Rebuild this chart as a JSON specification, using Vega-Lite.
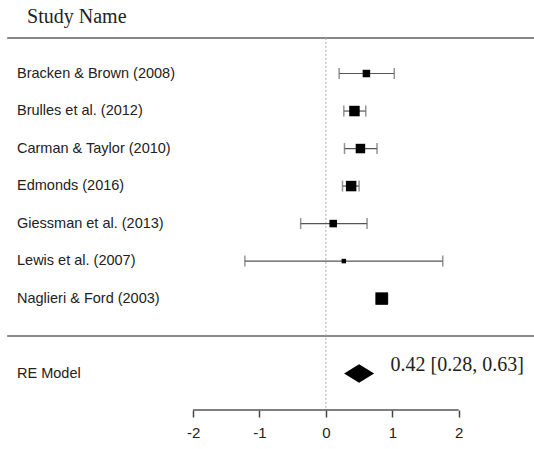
{
  "$schema": "https://vega.github.io/schema/vega-lite/v6.json",
  "width": 534,
  "height": 410,
  "autosize": {"type": "none"},
  "padding": {"left": 0, "top": 0, "right": 0, "bottom": 39},
  "background": "white",
  "config": {"view": {"stroke": null}},
  "datasets": {
    "studies": [
      {"study": "Bracken & Brown (2008)", "row": 1, "lo": 0.20, "est": 0.61, "hi": 1.03, "weight": 15},
      {"study": "Brulles et al. (2012)", "row": 2, "lo": 0.27, "est": 0.43, "hi": 0.60, "weight": 21},
      {"study": "Carman & Taylor (2010)", "row": 3, "lo": 0.28, "est": 0.52, "hi": 0.77, "weight": 19},
      {"study": "Edmonds (2016)", "row": 4, "lo": 0.25, "est": 0.38, "hi": 0.50, "weight": 21},
      {"study": "Giessman et al. (2013)", "row": 5, "lo": -0.38, "est": 0.11, "hi": 0.62, "weight": 15},
      {"study": "Lewis et al. (2007)", "row": 6, "lo": -1.22, "est": 0.27, "hi": 1.76, "weight": 9},
      {"study": "Naglieri & Ford (2003)", "row": 7, "lo": 0.76, "est": 0.84, "hi": 0.93, "weight": 25}
    ],
    "model": [
      {"label": "RE Model", "row": 9, "lo": 0.28, "mid": 0.5, "hi": 0.72, "text": "0.42 [0.28, 0.63]"}
    ]
  },
  "layer": [
    {
      "data": {"values": [{"label": "Study Name"}]},
      "mark": {"type": "text", "align": "left", "baseline": "middle", "font": "Liberation Serif", "fontSize": 20, "color": "#222"},
      "encoding": {
        "x": {"datum": -4.5, "type": "quantitative", "scale": {"domain": [-4.908, 3.134], "nice": false, "zero": false}, "axis": {"values": [-2, -1, 0, 1, 2], "labelExpr": "datum.value + ''", "domain": false, "grid": false, "tickSize": 7, "tickColor": "#444", "tickWidth": 1.5, "labelFont": "Liberation Sans", "labelFontSize": 15, "labelColor": "#222", "labelPadding": 8, "title": null, "labelFlush": false, "labelOverlap": false}},
        "y": {"datum": -0.5, "type": "quantitative", "scale": {"domain": [-0.96, 9.97], "nice": false, "zero": false, "reverse": true}, "axis": null},
        "text": {"field": "label"}
      }
    },
    {
      "data": {"values": [{"row": 0.05}, {"row": 8}]},
      "mark": {"type": "rule", "color": "#888", "strokeWidth": 2},
      "encoding": {
        "x": {"datum": -4.8, "type": "quantitative", "scale": {"domain": [-4.908, 3.134], "nice": false, "zero": false}, "axis": {"values": [-2, -1, 0, 1, 2], "labelExpr": "datum.value + ''", "domain": false, "grid": false, "tickSize": 7, "tickColor": "#444", "tickWidth": 1.5, "labelFont": "Liberation Sans", "labelFontSize": 15, "labelColor": "#222", "labelPadding": 8, "title": null, "labelFlush": false, "labelOverlap": false}},
        "x2": {"datum": 3.134},
        "y": {"field": "row", "type": "quantitative", "scale": {"domain": [-0.96, 9.97], "nice": false, "zero": false, "reverse": true}, "axis": null}
      }
    },
    {
      "data": {"values": [{"x": 0}]},
      "mark": {"type": "rule", "color": "#aaa", "strokeWidth": 1, "strokeDash": [2, 2]},
      "encoding": {
        "x": {"field": "x", "type": "quantitative", "scale": {"domain": [-4.908, 3.134], "nice": false, "zero": false}, "axis": {"values": [-2, -1, 0, 1, 2], "labelExpr": "datum.value + ''", "domain": false, "grid": false, "tickSize": 7, "tickColor": "#444", "tickWidth": 1.5, "labelFont": "Liberation Sans", "labelFontSize": 15, "labelColor": "#222", "labelPadding": 8, "title": null, "labelFlush": false, "labelOverlap": false}},
        "y": {"datum": 0.05, "type": "quantitative", "scale": {"domain": [-0.96, 9.97], "nice": false, "zero": false, "reverse": true}, "axis": null},
        "y2": {"datum": 9.97}
      }
    },
    {
      "data": {"values": [{"from": -2, "to": 2}]},
      "mark": {"type": "rule", "color": "#555", "strokeWidth": 1.5},
      "encoding": {
        "x": {"field": "from", "type": "quantitative", "scale": {"domain": [-4.908, 3.134], "nice": false, "zero": false}, "axis": {"values": [-2, -1, 0, 1, 2], "labelExpr": "datum.value + ''", "domain": false, "grid": false, "tickSize": 7, "tickColor": "#444", "tickWidth": 1.5, "labelFont": "Liberation Sans", "labelFontSize": 15, "labelColor": "#222", "labelPadding": 8, "title": null, "labelFlush": false, "labelOverlap": false}},
        "x2": {"field": "to"},
        "y": {"datum": 9.97, "type": "quantitative", "scale": {"domain": [-0.96, 9.97], "nice": false, "zero": false, "reverse": true}, "axis": null}
      }
    },
    {
      "data": {"name": "studies"},
      "mark": {"type": "rule", "color": "#555", "strokeWidth": 1.2},
      "encoding": {
        "x": {"field": "lo", "type": "quantitative", "scale": {"domain": [-4.908, 3.134], "nice": false, "zero": false}, "axis": {"values": [-2, -1, 0, 1, 2], "labelExpr": "datum.value + ''", "domain": false, "grid": false, "tickSize": 7, "tickColor": "#444", "tickWidth": 1.5, "labelFont": "Liberation Sans", "labelFontSize": 15, "labelColor": "#222", "labelPadding": 8, "title": null, "labelFlush": false, "labelOverlap": false}},
        "x2": {"field": "hi"},
        "y": {"field": "row", "type": "quantitative", "scale": {"domain": [-0.96, 9.97], "nice": false, "zero": false, "reverse": true}, "axis": null}
      }
    },
    {
      "data": {"name": "studies"},
      "mark": {"type": "tick", "orient": "vertical", "color": "#666", "size": 11, "thickness": 1.5},
      "encoding": {
        "x": {"field": "lo", "type": "quantitative", "scale": {"domain": [-4.908, 3.134], "nice": false, "zero": false}, "axis": {"values": [-2, -1, 0, 1, 2], "labelExpr": "datum.value + ''", "domain": false, "grid": false, "tickSize": 7, "tickColor": "#444", "tickWidth": 1.5, "labelFont": "Liberation Sans", "labelFontSize": 15, "labelColor": "#222", "labelPadding": 8, "title": null, "labelFlush": false, "labelOverlap": false}},
        "y": {"field": "row", "type": "quantitative", "scale": {"domain": [-0.96, 9.97], "nice": false, "zero": false, "reverse": true}, "axis": null}
      }
    },
    {
      "data": {"name": "studies"},
      "mark": {"type": "tick", "orient": "vertical", "color": "#666", "size": 11, "thickness": 1.5},
      "encoding": {
        "x": {"field": "hi", "type": "quantitative", "scale": {"domain": [-4.908, 3.134], "nice": false, "zero": false}, "axis": {"values": [-2, -1, 0, 1, 2], "labelExpr": "datum.value + ''", "domain": false, "grid": false, "tickSize": 7, "tickColor": "#444", "tickWidth": 1.5, "labelFont": "Liberation Sans", "labelFontSize": 15, "labelColor": "#222", "labelPadding": 8, "title": null, "labelFlush": false, "labelOverlap": false}},
        "y": {"field": "row", "type": "quantitative", "scale": {"domain": [-0.96, 9.97], "nice": false, "zero": false, "reverse": true}, "axis": null}
      }
    },
    {
      "data": {"name": "studies"},
      "mark": {"type": "point", "shape": "square", "filled": true, "color": "#000", "opacity": 1},
      "encoding": {
        "x": {"field": "est", "type": "quantitative", "scale": {"domain": [-4.908, 3.134], "nice": false, "zero": false}, "axis": {"values": [-2, -1, 0, 1, 2], "labelExpr": "datum.value + ''", "domain": false, "grid": false, "tickSize": 7, "tickColor": "#444", "tickWidth": 1.5, "labelFont": "Liberation Sans", "labelFontSize": 15, "labelColor": "#222", "labelPadding": 8, "title": null, "labelFlush": false, "labelOverlap": false}},
        "y": {"field": "row", "type": "quantitative", "scale": {"domain": [-0.96, 9.97], "nice": false, "zero": false, "reverse": true}, "axis": null},
        "size": {"field": "weight", "type": "quantitative", "scale": {"type": "pow", "exponent": 2, "domain": [0, 25], "range": [0, 156]}, "legend": null}
      }
    },
    {
      "data": {"name": "studies"},
      "mark": {"type": "text", "align": "left", "baseline": "middle", "font": "Liberation Sans", "fontSize": 14.5, "color": "#222"},
      "encoding": {
        "x": {"datum": -4.652, "type": "quantitative", "scale": {"domain": [-4.908, 3.134], "nice": false, "zero": false}, "axis": {"values": [-2, -1, 0, 1, 2], "labelExpr": "datum.value + ''", "domain": false, "grid": false, "tickSize": 7, "tickColor": "#444", "tickWidth": 1.5, "labelFont": "Liberation Sans", "labelFontSize": 15, "labelColor": "#222", "labelPadding": 8, "title": null, "labelFlush": false, "labelOverlap": false}},
        "y": {"field": "row", "type": "quantitative", "scale": {"domain": [-0.96, 9.97], "nice": false, "zero": false, "reverse": true}, "axis": null},
        "text": {"field": "study"}
      }
    },
    {
      "data": {"name": "model"},
      "mark": {"type": "text", "align": "left", "baseline": "middle", "font": "Liberation Sans", "fontSize": 14.5, "color": "#222"},
      "encoding": {
        "x": {"datum": -4.652, "type": "quantitative", "scale": {"domain": [-4.908, 3.134], "nice": false, "zero": false}, "axis": {"values": [-2, -1, 0, 1, 2], "labelExpr": "datum.value + ''", "domain": false, "grid": false, "tickSize": 7, "tickColor": "#444", "tickWidth": 1.5, "labelFont": "Liberation Sans", "labelFontSize": 15, "labelColor": "#222", "labelPadding": 8, "title": null, "labelFlush": false, "labelOverlap": false}},
        "y": {"field": "row", "type": "quantitative", "scale": {"domain": [-0.96, 9.97], "nice": false, "zero": false, "reverse": true}, "axis": null},
        "text": {"field": "label"}
      }
    },
    {
      "data": {"name": "model"},
      "mark": {"type": "point", "shape": "M -1 0 L 0 -0.616 L 1 0 L 0 0.616 Z", "filled": true, "color": "#000", "opacity": 1, "size": 900},
      "encoding": {
        "x": {"field": "mid", "type": "quantitative", "scale": {"domain": [-4.908, 3.134], "nice": false, "zero": false}, "axis": {"values": [-2, -1, 0, 1, 2], "labelExpr": "datum.value + ''", "domain": false, "grid": false, "tickSize": 7, "tickColor": "#444", "tickWidth": 1.5, "labelFont": "Liberation Sans", "labelFontSize": 15, "labelColor": "#222", "labelPadding": 8, "title": null, "labelFlush": false, "labelOverlap": false}},
        "y": {"field": "row", "type": "quantitative", "scale": {"domain": [-0.96, 9.97], "nice": false, "zero": false, "reverse": true}, "axis": null}
      }
    },
    {
      "data": {"name": "model"},
      "mark": {"type": "text", "align": "left", "baseline": "middle", "font": "Liberation Serif", "fontSize": 20, "color": "#222", "dy": -9},
      "encoding": {
        "x": {"datum": 0.973, "type": "quantitative", "scale": {"domain": [-4.908, 3.134], "nice": false, "zero": false}, "axis": {"values": [-2, -1, 0, 1, 2], "labelExpr": "datum.value + ''", "domain": false, "grid": false, "tickSize": 7, "tickColor": "#444", "tickWidth": 1.5, "labelFont": "Liberation Sans", "labelFontSize": 15, "labelColor": "#222", "labelPadding": 8, "title": null, "labelFlush": false, "labelOverlap": false}},
        "y": {"field": "row", "type": "quantitative", "scale": {"domain": [-0.96, 9.97], "nice": false, "zero": false, "reverse": true}, "axis": null},
        "text": {"field": "text"}
      }
    }
  ]
}
